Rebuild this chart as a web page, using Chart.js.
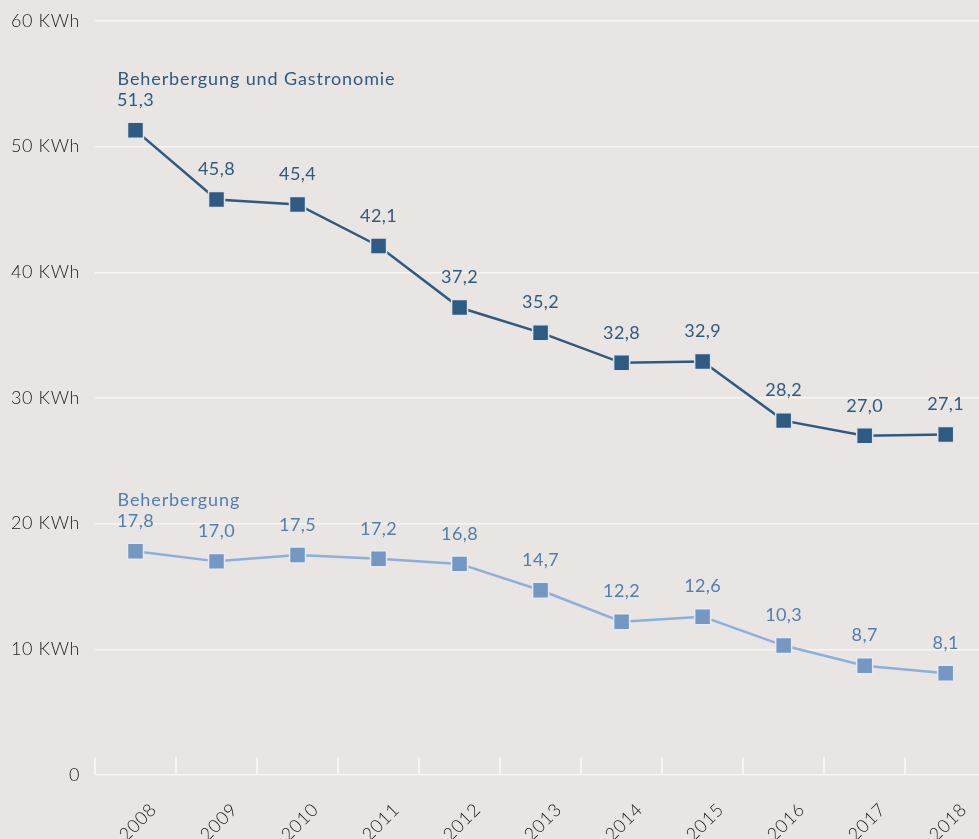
<!DOCTYPE html>
<html>
<head>
<meta charset="utf-8">
<script src="https://cdn.jsdelivr.net/npm/chart.js@4"></script>
<style>
  html, body { margin: 0; padding: 0; background: #e9e5e2; overflow: hidden; }
  canvas { display: block; }
</style>
</head>
<body>
<canvas id="my-canvas" width="999" height="839"></canvas>
<script>
const years = ['2008', '2009', '2010', '2011', '2012', '2013', '2014', '2015', '2016', '2017', '2018'];
const gastroValues = [51.3, 45.8, 45.4, 42.1, 37.2, 35.2, 32.8, 32.9, 28.2, 27.0, 27.1];
const hotelValues = [17.8, 17.0, 17.5, 17.2, 16.8, 14.7, 12.2, 12.6, 10.3, 8.7, 8.1];
const seriesNames = ['Beherbergung und Gastronomie', 'Beherbergung'];
const yTicks = [0, 10, 20, 30, 40, 50, 60];

const FONT = 'Lato, "Noto Sans", sans-serif';

// data labels + series names above the first point
const labelPlugin = {
  id: 'labels',
  beforeDraw(chart) {
    chart.ctx.letterSpacing = '0.6px';
  },
  afterDatasetsDraw(chart) {
    const ctx = chart.ctx;
    ctx.save();
    chart.data.datasets.forEach((ds, i) => {
      const meta = chart.getDatasetMeta(i);
      ctx.fillStyle = ds.labelColor;
      ctx.textAlign = 'center';
      ctx.textBaseline = 'middle';
      ctx.font = '18px ' + FONT;
      ctx.letterSpacing = '0.4px';
      meta.data.forEach((pt, j) => {
        ctx.fillText(ds.data[j].toFixed(1).replace('.', ','), pt.x, pt.y - 30);
      });
      const first = meta.data[0];
      ctx.textAlign = 'left';
      ctx.letterSpacing = '0.9px';
      ctx.fillText(ds.label, first.x - 18, first.y - 51);
    });
    ctx.restore();
  },
  beforeDatasetsDraw(chart) {
    // small upward ticks between categories
    const ctx = chart.ctx;
    const x = chart.scales.x;
    const area = chart.chartArea;
    ctx.save();
    ctx.strokeStyle = '#f7f5f3';
    ctx.lineWidth = 2;
    const half = (x.getPixelForValue(1) - x.getPixelForValue(0)) / 2;
    for (let i = 0; i < years.length; i++) {
      const px = Math.round(x.getPixelForValue(i) - half);
      ctx.beginPath();
      ctx.moveTo(px, area.bottom);
      ctx.lineTo(px, area.bottom - 18);
      ctx.stroke();
    }
    ctx.restore();
  }
};

const ctx = document.getElementById('my-canvas').getContext('2d');
const chart = new Chart(ctx, {
  type: 'line',
  data: {
    labels: years,
    datasets: [
      {
        label: seriesNames[0],
        data: gastroValues,
        borderColor: '#2f5a82',
        backgroundColor: '#2f5a82',
        labelColor: '#2f5a82',
        borderWidth: 2.5,
        pointStyle: 'rect',
        pointRadius: 11.3,
        pointBorderColor: '#dfe4ea',
        pointBorderWidth: 1.5,
        pointBackgroundColor: '#2f5a82'
      },
      {
        label: seriesNames[1],
        data: hotelValues,
        borderColor: '#8cafdf',
        backgroundColor: '#7597c4',
        labelColor: '#4f7fb5',
        borderWidth: 2.5,
        pointStyle: 'rect',
        pointRadius: 11.3,
        pointBorderColor: '#e6ebf2',
        pointBorderWidth: 1.5,
        pointBackgroundColor: '#7597c4'
      }
    ]
  },
  options: {
    responsive: false,
    animation: false,
    layout: { padding: { top: 21, right: 0, left: 0, bottom: 0 } },
    plugins: {
      legend: { display: false },
      tooltip: { enabled: false }
    },
    scales: {
      x: {
        offset: true,
        grid: { display: false },
        border: { display: false },
        ticks: {
          minRotation: 45,
          maxRotation: 45,
          padding: 16,
          labelOffset: 18,
          color: '#222222',
          font: { family: FONT, size: 18, weight: 300 }
        },
        afterFit(scale) {
          scale.height = 64;
          scale.paddingLeft = 0;
          scale.paddingRight = 0;
        }
      },
      y: {
        min: 0,
        max: 60,
        afterBuildTicks(scale) { scale.ticks = yTicks.map(v => ({ value: v })); },
        grid: { color: '#f7f5f3', lineWidth: 1.5, drawTicks: false },
        border: { display: false },
        ticks: {
          padding: 15,
          color: '#222222',
          font: { family: FONT, size: 18, weight: 300 },
          callback: v => v === 0 ? '0' : v + ' KWh'
        },
        afterFit(scale) {
          scale.width = 95;
          scale.paddingTop = 0;
          scale.paddingBottom = 0;
        }
      }
    }
  },
  plugins: [labelPlugin]
});
</script>
</body>
</html>
